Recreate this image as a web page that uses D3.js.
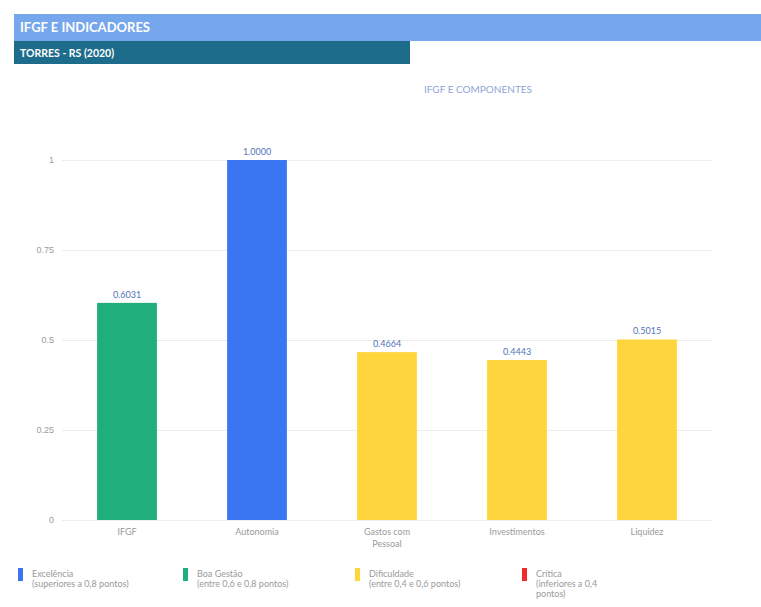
<!DOCTYPE html>
<html>
<head>
<meta charset="utf-8">
<script src="https://cdn.jsdelivr.net/npm/d3@7"></script>
<style>
  body { margin: 0; background: #fff; }
  svg { display: block; font-family: Lato, "Noto Sans", sans-serif; }
</style>
</head>
<body>
<svg id="chart" width="761" height="607"></svg>
<script>
const categories = ['IFGF', 'Autonomia', 'Gastos com\nPessoal', 'Investimentos', 'Liquidez']
const values = [0.6031, 1.0000, 0.4664, 0.4443, 0.5015]
const yTicks = [0, 0.25, 0.5, 0.75, 1]
const yTickLabels = ['0', '0.25', '0.5', '0.75', '1']
const legendLabels = [
  ['Excelência', '(superiores a 0,8 pontos)'],
  ['Boa Gestão', '(entre 0,6 e 0,8 pontos)'],
  ['Dificuldade', '(entre 0,4 e 0,6 pontos)'],
  ['Crítica', '(inferiores a 0,4', 'pontos)']
]
const legendColors = ['#3b76f2', '#20ae7b', '#ffd53d', '#f02a2a']

// cor pela faixa do indice
function barColor (v) {
  if (v > 0.8) return legendColors[0]
  if (v >= 0.6) return legendColors[1]
  if (v >= 0.4) return legendColors[2]
  return legendColors[3]
}

const svg = d3.select('#chart')

// cabecalho
svg.append('rect').attr('x', 14).attr('y', 14).attr('width', 747).attr('height', 27).attr('fill', '#76a7ec')
svg.append('text').attr('x', 20).attr('y', 32).text('IFGF E INDICADORES')
  .style('font-size', '13px').style('font-weight', 'bold').attr('fill', '#fff')
svg.append('rect').attr('x', 14).attr('y', 41).attr('width', 396).attr('height', 23).attr('fill', '#1e6c8b')
svg.append('text').attr('x', 20).attr('y', 57).text('TORRES - RS (2020)')
  .style('font-size', '10.5px').style('font-weight', 'bold').attr('fill', '#fff')

svg.append('text').attr('x', 478).attr('y', 93).attr('text-anchor', 'middle')
  .text('IFGF E COMPONENTES').style('font-size', '10px').attr('fill', '#8fa6d6')

const x = d3.scaleBand().domain(categories).range([62, 712]).paddingInner(0.54).paddingOuter(0.27)
const y = d3.scaleLinear().domain([0, 1]).range([520, 160])

const yAxis = svg.append('g').attr('transform', 'translate(62,0)')
  .call(d3.axisLeft(y).tickValues(yTicks).tickFormat((d, i) => yTickLabels[i]).tickSize(-650).tickPadding(8))
yAxis.select('.domain').remove()
yAxis.selectAll('line').attr('stroke', '#ececec')
yAxis.selectAll('text').attr('fill', '#9a9a9a').style('font-size', '9px')

svg.append('g').selectAll('rect').data(values).join('rect')
  .attr('x', (d, i) => x(categories[i]))
  .attr('y', d => y(d))
  .attr('width', x.bandwidth())
  .attr('height', d => y(0) - y(d))
  .attr('fill', d => barColor(d))

svg.append('g').selectAll('text').data(values).join('text')
  .attr('x', (d, i) => x(categories[i]) + x.bandwidth() / 2)
  .attr('y', d => y(d) - 5)
  .attr('text-anchor', 'middle')
  .text(d => d.toFixed(4))
  .style('font-size', '9px').attr('fill', '#5274b8')

const xl = svg.append('g').selectAll('text').data(categories).join('text')
  .attr('x', d => x(d) + x.bandwidth() / 2)
  .attr('y', 535)
  .attr('text-anchor', 'middle')
  .style('font-size', '9px').attr('fill', '#9a9a9a')
xl.selectAll('tspan').data(d => d.split('\n')).join('tspan')
  .attr('x', function () { return this.parentNode.getAttribute('x') })
  .attr('dy', (d, i) => i === 0 ? 0 : 12)
  .text(d => d)

// legenda
const legendX = [18, 183, 355, 522]
const lg = svg.append('g').selectAll('g').data(legendLabels).join('g')
  .attr('transform', (d, i) => 'translate(' + legendX[i] + ',568)')
lg.append('rect').attr('width', 5).attr('height', 13).attr('fill', (d, i) => legendColors[i])
const lt = lg.append('text').attr('x', 14).attr('y', 9).style('font-size', '9px').attr('fill', '#9a9a9a')
lt.selectAll('tspan').data(d => d).join('tspan')
  .attr('x', 14)
  .attr('dy', (d, i) => i === 0 ? 0 : 10)
  .text(d => d)
</script>
</body>
</html>
